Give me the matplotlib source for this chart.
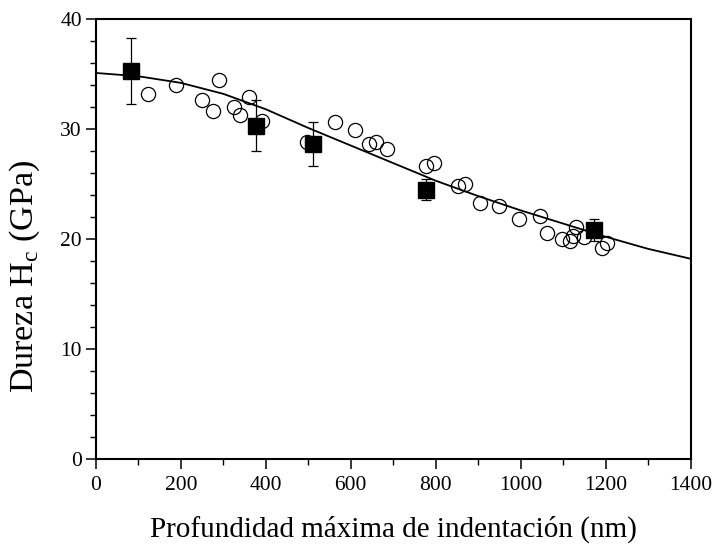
import matplotlib
matplotlib.use('Agg')
import matplotlib.pyplot as plt
from matplotlib.ticker import MultipleLocator

plt.rcParams['font.family'] = ['Liberation Serif', 'DejaVu Serif']
plt.rcParams['mathtext.fontset'] = 'custom'
plt.rcParams['mathtext.rm'] = 'Liberation Serif'

# open circles: individual indentations
prof_c = [123, 188, 289, 250, 276, 325, 340, 361, 390, 496, 562, 609, 642, 660, 686,
          778, 795, 853, 868, 905, 948, 995, 1045, 1061, 1097, 1115, 1122, 1129, 1148,
          1191, 1202]
dur_c = [33.2, 34.0, 34.5, 32.6, 31.6, 32.0, 31.3, 32.9, 30.7, 28.8, 30.6, 29.9, 28.6,
         28.8, 28.2, 26.6, 26.9, 24.8, 25.0, 23.3, 23.0, 21.8, 22.1, 20.5, 20.0, 19.8,
         20.3, 21.1, 20.2, 19.2, 19.6]

# filled squares: mean values with error bars
prof_s = [83, 378, 511, 778, 1172]
dur_s = [35.3, 30.3, 28.6, 24.5, 20.8]
err_s = [3.0, 2.3, 2.0, 1.0, 1.0]

# fit curve
prof_fit = [0, 100, 200, 300, 400, 500, 600, 700, 800, 900, 1000, 1100, 1200, 1300, 1400]
dur_fit = [35.1, 34.8, 34.2, 33.2, 31.8, 30.1, 28.5, 26.9, 25.3, 23.9, 22.6, 21.4, 20.2,
           19.1, 18.2]

fig = plt.figure(figsize=(7.15, 5.45), dpi=100)
ax = fig.add_axes([0.134, 0.158, 0.832, 0.807])

ax.plot(prof_fit, dur_fit, color='black', lw=1.3, zorder=2)
ax.plot(prof_c, dur_c, linestyle='none', marker='o', markersize=10.2,
        fillstyle='none', markeredgecolor='black', markeredgewidth=0.9, zorder=3)
ax.errorbar(prof_s, dur_s, yerr=err_s, linestyle='none', marker='s', markersize=11.5,
            color='black', ecolor='black', elinewidth=0.9, capsize=3.5, capthick=0.9,
            zorder=4)

ax.set_xlim(0, 1400)
ax.set_ylim(0, 40)
ax.xaxis.set_major_locator(MultipleLocator(200))
ax.xaxis.set_minor_locator(MultipleLocator(100))
ax.yaxis.set_major_locator(MultipleLocator(10))
ax.yaxis.set_minor_locator(MultipleLocator(2))
ax.tick_params(which='major', direction='out', length=7, width=1.1, labelsize=15.5,
               top=False, right=False)
ax.tick_params(axis='x', which='major', pad=5)
ax.tick_params(axis='y', which='major', pad=3)
ax.tick_params(which='minor', direction='out', length=4, width=1.0, top=False, right=False)
for s in ax.spines.values():
    s.set_linewidth(1.5)

ax.set_xlabel('Profundidad máxima de indentación (nm)', fontsize=21, labelpad=15)
ax.set_ylabel(r'Dureza H$_\mathregular{c}$ (GPa)', fontsize=24.5)
ax.yaxis.set_label_coords(-0.091, 0.414)

fig.savefig('out.png', dpi=100)
